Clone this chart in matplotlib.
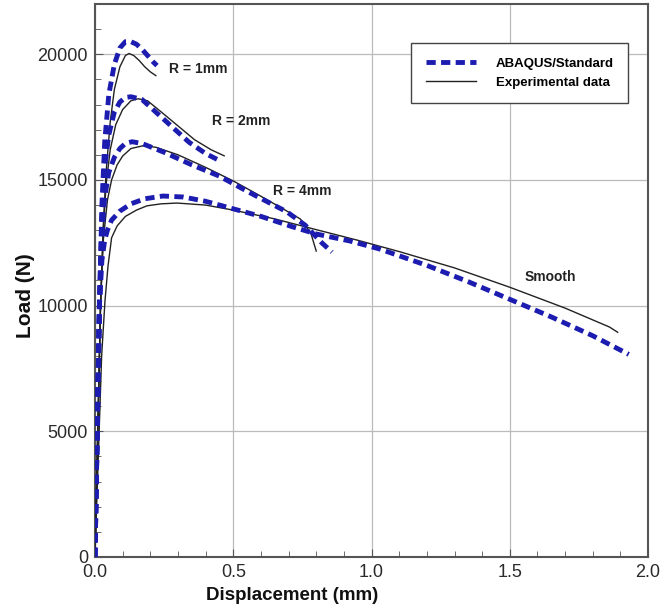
import matplotlib
matplotlib.use("Agg")
import matplotlib.pyplot as plt
from matplotlib.ticker import MultipleLocator

plt.rcParams['font.family'] = ['Liberation Sans', 'DejaVu Sans']

# ABAQUS/Standard (dashed) curves
r1_fe_x = [0.0, 0.008, 0.016, 0.025, 0.035, 0.05, 0.07, 0.09, 0.11, 0.13, 0.15, 0.17, 0.19, 0.21, 0.224]
r1_fe_y = [0, 5000, 10000, 14000, 16500, 18400, 19600, 20250, 20500, 20500, 20400, 20200, 19950, 19700, 19550]
r2_fe_x = [0.0, 0.008, 0.016, 0.025, 0.035, 0.05, 0.07, 0.09, 0.11, 0.13, 0.17, 0.22, 0.28, 0.34, 0.40, 0.452]
r2_fe_y = [0, 5000, 10000, 13500, 15500, 16800, 17700, 18100, 18280, 18310, 18200, 17700, 17100, 16500, 16050, 15760]
r4_fe_x = [0.0, 0.008, 0.016, 0.025, 0.035, 0.05, 0.07, 0.09, 0.11, 0.134, 0.17, 0.25, 0.35, 0.45, 0.55, 0.62, 0.694, 0.76, 0.82, 0.857]
r4_fe_y = [0, 5000, 10000, 12800, 14300, 15300, 15900, 16250, 16450, 16520, 16450, 16100, 15600, 15150, 14550, 14150, 13730, 13200, 12500, 12130]
sm_fe_x = [0.0, 0.008, 0.016, 0.025, 0.035, 0.045, 0.06, 0.09, 0.13, 0.18, 0.246, 0.32, 0.40, 0.50, 0.60, 0.716, 0.80, 0.922, 1.03, 1.20, 1.35, 1.50, 1.65, 1.80, 1.93]
sm_fe_y = [0, 5000, 10000, 11800, 12600, 13000, 13400, 13760, 14050, 14250, 14360, 14320, 14150, 13850, 13550, 13130, 12850, 12570, 12250, 11600, 10950, 10250, 9550, 8800, 8060]

# Experimental data (solid) curves
r1_ex_x = [0.0, 0.01, 0.02, 0.03, 0.04, 0.055, 0.07, 0.09, 0.11, 0.123, 0.14, 0.16, 0.18, 0.20, 0.22]
r1_ex_y = [0, 5000, 10000, 13200, 15300, 17300, 18600, 19500, 19950, 20030, 19950, 19750, 19500, 19300, 19150]
r2_ex_x = [0.0, 0.01, 0.02, 0.03, 0.04, 0.055, 0.075, 0.10, 0.13, 0.156, 0.19, 0.24, 0.30, 0.36, 0.42, 0.467]
r2_ex_y = [0, 5000, 10000, 13000, 14800, 16200, 17200, 17800, 18150, 18230, 18150, 17700, 17150, 16600, 16200, 15960]
r4_ex_x = [0.0, 0.01, 0.02, 0.03, 0.045, 0.06, 0.08, 0.10, 0.13, 0.174, 0.22, 0.30, 0.40, 0.50, 0.60, 0.68, 0.742, 0.78, 0.80]
r4_ex_y = [0, 5000, 10000, 12600, 14200, 15000, 15600, 15950, 16250, 16360, 16300, 16000, 15500, 14960, 14350, 13850, 13450, 12900, 12170]
sm_ex_x = [0.0, 0.012, 0.024, 0.036, 0.047, 0.06, 0.08, 0.11, 0.15, 0.188, 0.24, 0.297, 0.40, 0.50, 0.65, 0.79, 0.95, 1.10, 1.30, 1.50, 1.70, 1.86, 1.89]
sm_ex_y = [0, 4000, 8000, 10170, 11570, 12700, 13170, 13550, 13800, 13970, 14050, 14080, 14000, 13800, 13450, 13050, 12600, 12150, 11500, 10730, 9900, 9150, 8940]

curve_labels = ["R = 1mm", "R = 2mm", "R = 4mm", "Smooth"]
label_x = [0.375, 0.53, 0.75, 1.645]
label_y = [19430, 17360, 14550, 11130]

fig = plt.figure(figsize=(6.62, 6.13), dpi=100)
ax = fig.add_axes([0.1435, 0.0914, 0.8355, 0.9021])

blue = '#1c1cb0'
fe_curves = [(r1_fe_x, r1_fe_y), (r2_fe_x, r2_fe_y), (r4_fe_x, r4_fe_y), (sm_fe_x, sm_fe_y)]
ex_curves = [(r1_ex_x, r1_ex_y), (r2_ex_x, r2_ex_y), (r4_ex_x, r4_ex_y), (sm_ex_x, sm_ex_y)]

for i, (x, y) in enumerate(ex_curves):
    ax.plot(x, y, color='#222222', lw=1.0, label='Experimental data' if i == 0 else None, zorder=3)
for i, (x, y) in enumerate(fe_curves):
    ax.plot(x, y, color=blue, lw=3.5, dashes=(1.9, 1.1), label='ABAQUS/Standard' if i == 0 else None, zorder=4)

for lab, lx, ly in zip(curve_labels, label_x, label_y):
    ax.text(lx, ly, lab, ha='center', va='center', fontsize=10, fontweight='bold', color='#222222')

ax.set_xlim(0, 2.0)
ax.set_ylim(0, 22000)
ax.set_xticks([0.0, 0.5, 1.0, 1.5, 2.0])
ax.set_xticklabels(['0.0', '0.5', '1.0', '1.5', '2.0'])
ax.set_yticks([0, 5000, 10000, 15000, 20000])
ax.xaxis.set_minor_locator(MultipleLocator(0.1))
ax.yaxis.set_minor_locator(MultipleLocator(1000))
ax.tick_params(which='both', direction='in', top=False, right=False, colors='#555555',
               labelcolor='#2a2a2a', labelsize=13)
ax.tick_params(axis='x', which='major', pad=5)
ax.tick_params(axis='y', which='major', pad=5)
ax.tick_params(which='major', length=6)
ax.tick_params(which='minor', length=4)
ax.grid(True, which='major', color='#bbbbbb', lw=0.9)
for s in ax.spines.values():
    s.set_color('#555555')
    s.set_linewidth(1.5)

ax.set_xlabel('Displacement (mm)', fontsize=13.5, fontweight='bold', color='#111111')
ax.xaxis.set_label_coords(0.356, -0.055)
ax.set_ylabel('Load (N)', fontsize=15, fontweight='bold', color='#111111')
ax.yaxis.set_label_coords(-0.108, 0.472)

handles, labels = ax.get_legend_handles_labels()
order = [labels.index('ABAQUS/Standard'), labels.index('Experimental data')]
leg = ax.legend([handles[k] for k in order], [labels[k] for k in order],
                loc='upper right', bbox_to_anchor=(0.964, 0.929), fancybox=False,
                framealpha=1, edgecolor='#444444', handlelength=3.8, handletextpad=1.5,
                borderpad=1.1, prop={'weight': 'bold', 'size': 9.5}, borderaxespad=0)
leg.get_frame().set_linewidth(1.0)

fig.savefig('out.png', dpi=100)
